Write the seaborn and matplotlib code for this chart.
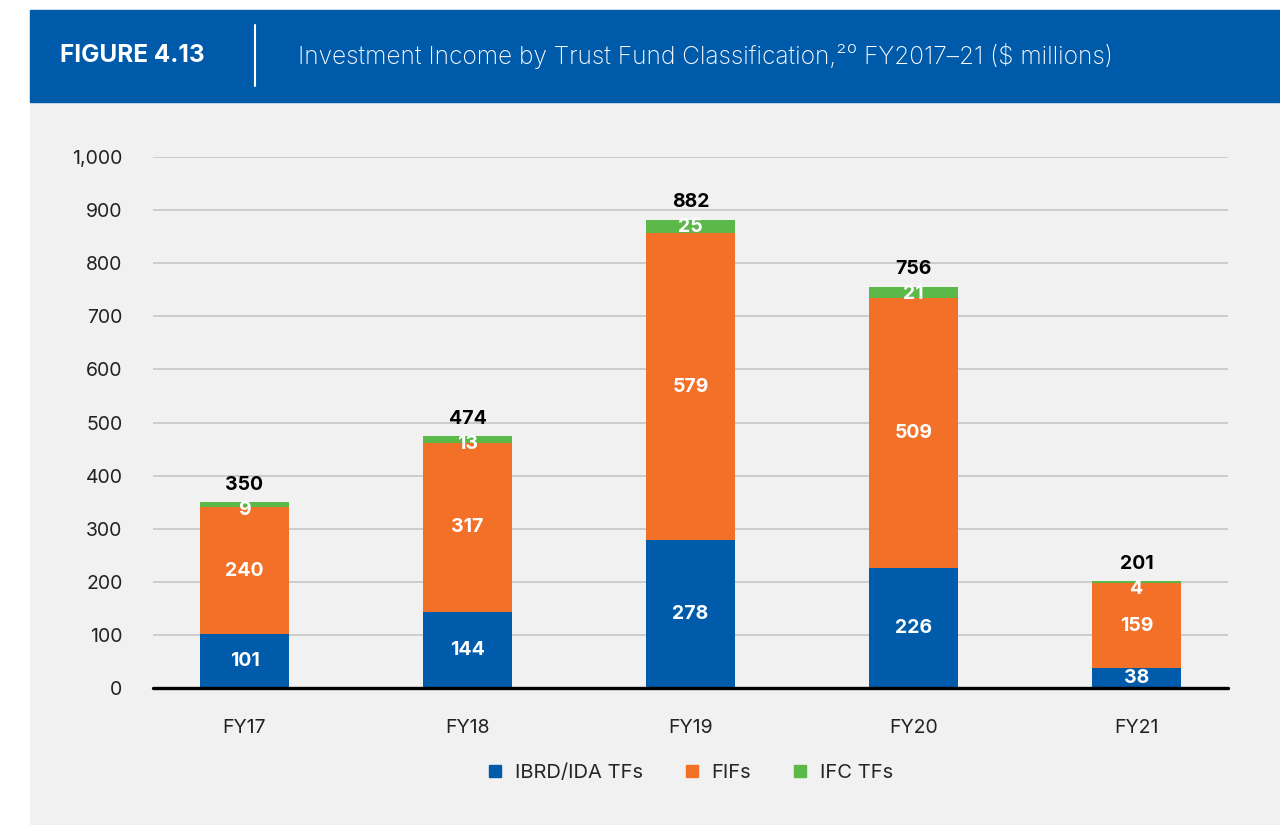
import matplotlib
matplotlib.use("Agg")
import matplotlib.pyplot as plt
import seaborn as sns
import pandas as pd
from matplotlib.patches import Rectangle
from matplotlib.lines import Line2D

years = ["FY17", "FY18", "FY19", "FY20", "FY21"]
ibrd_ida = [101, 144, 278, 226, 38]
fifs = [240, 317, 579, 509, 159]
ifc = [9, 13, 25, 21, 4]
totals = [350, 474, 882, 756, 201]
series_names = ["IBRD/IDA TFs", "FIFs", "IFC TFs"]

BLUE = "#005BAA"
ORANGE = "#F37029"
GREEN = "#5DB84A"
PANEL = "#F1F1F1"

sns.set_style("white")
plt.rcParams["font.family"] = ["Inter", "DejaVu Sans"]

df = pd.DataFrame({"year": years, "ibrd": ibrd_ida, "fifs": fifs, "ifc": ifc})
df["base2"] = df["ibrd"] + df["fifs"]

fig = plt.figure(figsize=(12.8, 8.25), dpi=100)
fig.patch.set_facecolor("white")

# gray panel and blue header band (behind the axes)
fig.patches.append(Rectangle((30 / 1280, 0), 1 - 30 / 1280, 1 - 102 / 825,
                             transform=fig.transFigure, color=PANEL, zorder=-2))
fig.patches.append(Rectangle((30 / 1280, 1 - 102 / 825), 1 - 30 / 1280, 92 / 825,
                             transform=fig.transFigure, color="#005AAA", zorder=-2))
fig.add_artist(Line2D([255 / 1280, 255 / 1280], [1 - 86 / 825, 1 - 25 / 825],
                      transform=fig.transFigure, color="white", lw=1.5))
fig.text(60 / 1280, 1 - 56 / 825, "FIGURE 4.13", color="white", fontsize=17.5,
         fontweight="bold", va="center", ha="left")
fig.text(298 / 1280, 1 - 56 / 825,
         "Investment Income by Trust Fund Classification,\u00b2\u2070 FY2017\u201321 ($ millions)",
         color="white", fontsize=17.6, fontweight="light", va="center", ha="left")

ax = fig.add_axes([153 / 1280, 1 - 688 / 825, (1228 - 153) / 1280, (688 - 157) / 825])
ax.set_facecolor(PANEL)

bar_kw = dict(width=0.4, ax=ax, saturation=1, zorder=3, linewidth=0)
sns.barplot(data=df, x="year", y="ibrd", color=BLUE, **bar_kw)
sns.barplot(data=df, x="year", y="fifs", bottom=df["ibrd"], color=ORANGE, **bar_kw)
sns.barplot(data=df, x="year", y="ifc", bottom=df["base2"], color=GREEN, **bar_kw)

for i in range(len(years)):
    ax.text(i, ibrd_ida[i] / 2, str(ibrd_ida[i]), ha="center", va="center",
            color="white", fontsize=14, fontweight="bold", zorder=5)
    ax.text(i, ibrd_ida[i] + fifs[i] / 2, str(fifs[i]), ha="center", va="center",
            color="white", fontsize=14, fontweight="bold", zorder=5)
    ax.text(i, totals[i] - 14, str(ifc[i]), ha="center",
            va="center", color="white", fontsize=14, fontweight="bold", zorder=5)
    ax.annotate(str(totals[i]), (i, totals[i]), xytext=(0, 6), textcoords="offset points",
                ha="center", va="bottom", color="black", fontsize=14, fontweight="bold")

ax.set_ylim(0, 1000)
ax.set_xlim(-0.41, 4.41)
ax.set_yticks(range(0, 1001, 100))
ax.set_yticklabels([f"{v:,}" for v in range(0, 1001, 100)])
ax.yaxis.grid(True, color="#C6C6C6", lw=1.2, zorder=0)
ax.set_axisbelow(True)
ax.axhline(0, color="black", lw=2.4, zorder=4, clip_on=False)
sns.despine(ax=ax, left=True, bottom=True)
ax.tick_params(axis="y", length=0, pad=22, labelsize=14, labelcolor="#222222")
ax.tick_params(axis="x", length=0, pad=22, labelsize=14, labelcolor="#222222")
ax.set_xlabel("")
ax.set_ylabel("")

handles = [Line2D([], [], marker="s", ls="", color=c, markersize=9)
           for c in [BLUE, ORANGE, GREEN]]
fig.legend(handles, series_names, loc="center", bbox_to_anchor=(690 / 1280, 1 - 773 / 825),
           ncol=3, frameon=False, fontsize=14.5, handlelength=0.8, handletextpad=0.6,
           columnspacing=2.0)

fig.savefig("out.png", dpi=100, facecolor=fig.get_facecolor())
